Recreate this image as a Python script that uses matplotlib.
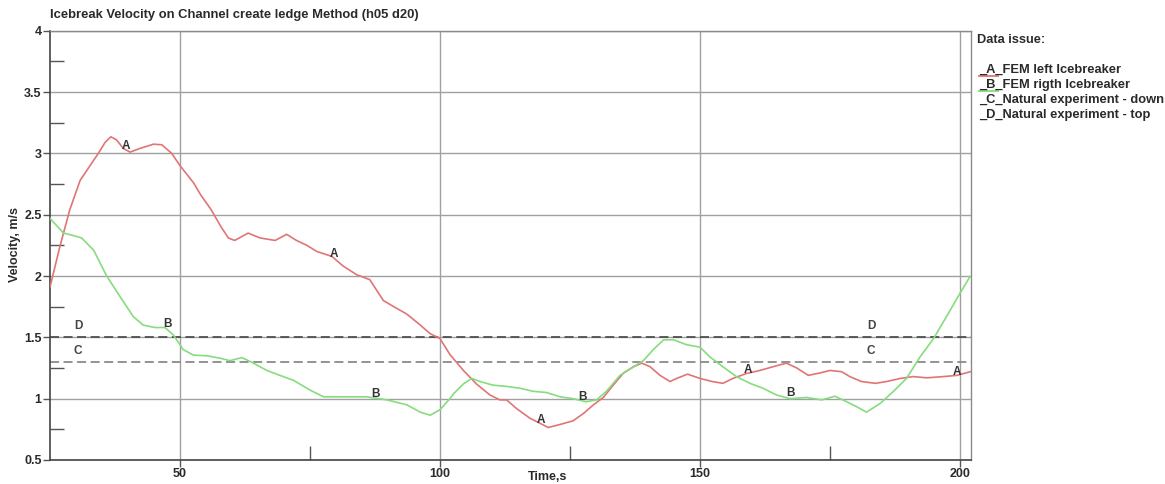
import matplotlib
matplotlib.use("Agg")
import matplotlib.pyplot as plt
from matplotlib.ticker import FixedLocator

plt.rcParams["font.family"] = ["Liberation Sans", "DejaVu Sans"]
plt.rcParams["font.weight"] = "bold"

# --- series data ---------------------------------------------------------
time_a = [25, 26.9, 28.8, 30.8, 32.7, 34.3, 35.6, 36.7, 37.8, 39.1, 40.4, 42.3,
          44.9, 46.5, 48.4, 50, 52.6, 54, 56, 57.9, 59.3, 60.5, 63.1, 65.4,
          68.3, 70.5, 72.4, 74.4, 76.3, 79.2, 81.4, 84.0, 86.5, 89.1, 90.7,
          93.6, 96.2, 98.1, 100, 101.9, 104.5, 107, 109.6, 111.5, 112.8, 114.7,
          117.3, 119.2, 120.8, 123.1, 125.6, 127.6, 129.5, 131.4, 133.3, 135.3,
          137.2, 138.8, 140.4, 142.3, 144.2, 145.8, 147.6, 150, 152.3, 154.4,
          156.3, 158.9, 161.5, 164, 166.6, 168.6, 170.8, 173.1, 175, 177.2,
          178.8, 181, 183.7, 185.9, 188.5, 191, 193.6, 196.8, 199.4, 202]
vel_a = [1.91, 2.24, 2.54, 2.78, 2.90, 3.00, 3.09, 3.135, 3.11, 3.04, 3.01, 3.04,
         3.075, 3.07, 3.00, 2.90, 2.76, 2.66, 2.54, 2.40, 2.31, 2.29, 2.35, 2.31,
         2.29, 2.34, 2.29, 2.25, 2.20, 2.16, 2.08, 2.01, 1.97, 1.80, 1.76,
         1.69, 1.60, 1.53, 1.49, 1.36, 1.23, 1.12, 1.03, 0.99, 0.99, 0.92,
         0.84, 0.80, 0.765, 0.79, 0.82, 0.88, 0.95, 1.01, 1.11, 1.21,
         1.26, 1.29, 1.26, 1.19, 1.14, 1.17, 1.20, 1.165, 1.14, 1.125,
         1.165, 1.205, 1.23, 1.26, 1.29, 1.25, 1.19, 1.21, 1.23, 1.22,
         1.18, 1.14, 1.125, 1.14, 1.165, 1.18, 1.17, 1.18, 1.19, 1.22]

time_b = [25, 26.3, 27.6, 29.5, 31.1, 33.4, 35.9, 38.5, 41.0, 42.9, 45.2, 47.1,
          48.7, 50, 50.6, 52.6, 55.1, 57.7, 59.6, 61.9, 64.1, 66.7, 69.2, 71.8,
          75, 77.6, 81.4, 85.9, 89.8, 93.6, 96.2, 98.1, 100, 101.9, 102.6,
          104.5, 106.1, 107.7, 110.2, 112.8, 115.4, 117.9, 120.5, 123.1, 125.6,
          128.1, 130.1, 132, 134.6, 137.2, 139.1, 141, 143, 144.9, 147.4, 150,
          151.9, 154.4, 157, 159.6, 162.1, 164.7, 167.3, 170.5, 173.4, 175.9,
          178.2, 180.1, 182, 184.6, 187.2, 189.7, 192.3, 194.9, 197.4, 200, 201.9]
vel_b = [2.47, 2.41, 2.35, 2.33, 2.31, 2.21, 2.00, 1.83, 1.67, 1.60, 1.58, 1.58,
         1.52, 1.44, 1.40, 1.355, 1.35, 1.33, 1.31, 1.335, 1.29, 1.23, 1.19, 1.15,
         1.07, 1.015, 1.015, 1.015, 0.99, 0.95, 0.89, 0.865, 0.91, 1.0, 1.04,
         1.12, 1.165, 1.14, 1.11, 1.10, 1.085, 1.06, 1.05, 1.015, 1.0,
         0.975, 0.99, 1.06, 1.19, 1.26, 1.31, 1.40, 1.48, 1.48, 1.44, 1.42,
         1.34, 1.26, 1.18, 1.125, 1.085, 1.03, 1.0, 1.01, 0.99, 1.02,
         0.975, 0.935, 0.89, 0.96, 1.06, 1.165, 1.34, 1.49, 1.67, 1.86, 1.995]

natural_down = 1.3   # C
natural_top = 1.5    # D

# curve marker letters (time, velocity)
label_a_pos = [(39.6, 3.06), (79.6, 2.18), (119.4, 0.83), (159.2, 1.23), (199.4, 1.22)]
label_b_pos = [(47.5, 1.61), (87.5, 1.04), (127.3, 1.01), (167.3, 1.05)]
label_cd_times = [30.4, 182.9]

x_major = [50, 100, 150, 200]
x_minor = [75, 125, 175]
y_major = [0.5, 1.0, 1.5, 2.0, 2.5, 3.0, 3.5, 4.0]
y_minor = [0.75, 1.25, 1.75, 2.25, 2.75, 3.25, 3.75]
x_labels = ["50", "100", "150", "200"]
y_labels = ["0.5", "1", "1.5", "2", "2.5", "3", "3.5", "4"]

legend_entries = ["_A_FEM left Icebreaker",
                  "_B_FEM rigth Icebreaker",
                  "_C_Natural experiment - down",
                  "_D_Natural experiment - top"]

red = "#e07575"
green = "#86dc7e"
dark_dash = "#505050"
light_dash = "#8a8a8a"
grid_col = "#a0a0a0"
text_col = "#2a2a2a"

fig = plt.figure(figsize=(11.65, 4.84), dpi=100)
ax = fig.add_axes([50 / 1165, 24 / 484, 921 / 1165, 429.3 / 484])

ax.set_xlim(25, 202.1)
ax.set_ylim(0.5, 4.0)

# grid and ticks
ax.xaxis.set_major_locator(FixedLocator(x_major))
ax.xaxis.set_minor_locator(FixedLocator(x_minor))
ax.yaxis.set_major_locator(FixedLocator(y_major))
ax.yaxis.set_minor_locator(FixedLocator(y_minor))
ax.set_xticklabels(x_labels, fontweight="bold")
ax.set_yticklabels(y_labels, fontweight="bold")
ax.grid(True, which="major", color=grid_col, lw=1.0)
ax.set_axisbelow(True)

ax.tick_params(axis="both", which="major", direction="out", length=5, width=1,
               color="#555555", labelsize=9, labelcolor=text_col, pad=1)
ax.tick_params(axis="both", which="minor", direction="in", length=10, width=1,
               color="#555555")

for side in ("left", "bottom"):
    ax.spines[side].set_color("#444444")
    ax.spines[side].set_linewidth(1.2)
for side in ("top", "right"):
    ax.spines[side].set_color("#8a8a8a")
    ax.spines[side].set_linewidth(1.0)

# reference levels
ax.axhline(natural_top, color=dark_dash, lw=1.3, ls=(0, (5, 2.5)), zorder=2)
ax.axhline(natural_down, color=light_dash, lw=1.3, ls=(0, (5, 2.5)), zorder=2)

# curves
ax.plot(time_a, vel_a, color=red, lw=1.2, zorder=3)
ax.plot(time_b, vel_b, color=green, lw=1.2, zorder=3)

lab_kw = dict(fontsize=8.5, fontweight="bold", color="#333333", ha="center",
              va="center", zorder=4)
for t, v in label_a_pos:
    ax.text(t, v, "A", **lab_kw)
for t, v in label_b_pos:
    ax.text(t, v, "B", **lab_kw)
for t in label_cd_times:
    ax.text(t, natural_top + 0.09, "D", **dict(lab_kw, color="#444444"))
    ax.text(t, natural_down + 0.09, "C", **dict(lab_kw, color="#444444"))

# titles / axis labels
fig.text(50 / 1165, 1 - 15 / 484, "Icebreak Velocity on Channel create ledge Method (h05 d20)",
         fontsize=9.4, fontweight="bold", color=text_col, ha="left", va="center")
fig.text(15 / 1165, 1 - 245 / 484, "Velocity, m/s", rotation=90, fontsize=9,
         fontweight="bold", color=text_col, ha="center", va="center")
fig.text(548 / 1165, 1 - 477 / 484, "Time,s", fontsize=9, fontweight="bold",
         color=text_col, ha="center", va="center")

# series key on the right
fig.text(977 / 1165, 1 - 40 / 484, "Data issue:", fontsize=9.2, fontweight="bold",
         color=text_col, ha="left", va="center")
key_colors = [red, green, None, None]
for i, (entry, col) in enumerate(zip(legend_entries, key_colors)):
    y_px = 70 + i * 14.9
    y_fig = 1 - y_px / 484
    if col is not None:
        fig.lines.append(plt.Line2D([979 / 1165, 998 / 1165],
                                    [1 - (y_px + 6) / 484] * 2,
                                    transform=fig.transFigure, color=col, lw=1.3))
    fig.text(979 / 1165, y_fig, entry, fontsize=9.3, fontweight="bold",
             color=text_col, ha="left", va="center")

fig.savefig("out.png", dpi=100, facecolor="white")
